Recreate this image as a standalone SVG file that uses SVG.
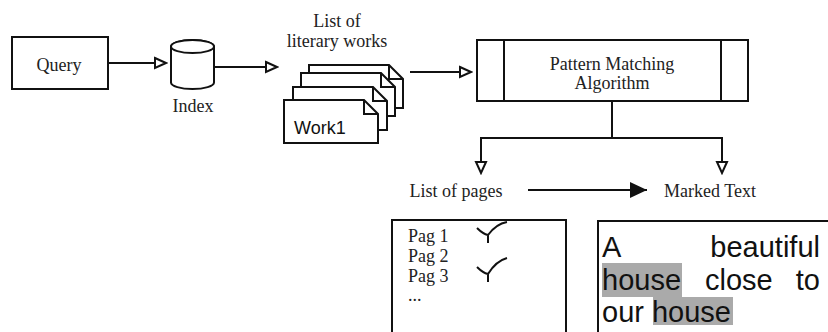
<svg xmlns="http://www.w3.org/2000/svg" width="828" height="332" viewBox="0 0 828 332">
<defs>
<style>
.ln{fill:none;stroke:#111;stroke-width:2}
.box{fill:#fff;stroke:#111;stroke-width:2}
.t{font-family:"Liberation Serif","Times New Roman",serif;font-size:18px;fill:#222}
.s{font-family:"Liberation Sans",Arial,sans-serif;fill:#111}
.hl{fill:#aaa}
</style>
<marker id="open" markerWidth="14" markerHeight="14" refX="12" refY="6" orient="auto" markerUnits="userSpaceOnUse" viewBox="0 0 14 12">
<path d="M1,1 L12,6 L1,11 Z" fill="#fff" stroke="#111" stroke-width="2"/>
</marker>
<marker id="solid" markerWidth="18" markerHeight="18" refX="17" refY="8" orient="auto" markerUnits="userSpaceOnUse" viewBox="0 0 18 16">
<path d="M0,0 L17,8 L0,16 Z" fill="#111"/>
</marker>
</defs>
<rect width="828" height="332" fill="#fff"/>

<g id="connectors">
<path class="ln" d="M108,63 H166" marker-end="url(#open)"/>
<path class="ln" d="M214,67 H277" marker-end="url(#open)"/>
<path class="ln" d="M410,72 H471" marker-end="url(#open)"/>
<path class="ln" d="M612,101 V138"/>
<path class="ln" d="M481,138 H722"/>
<path class="ln" d="M481,137 V173" marker-end="url(#open)"/>
<path class="ln" d="M722,137 V173" marker-end="url(#open)"/>
<path class="ln" d="M528,190 H647" marker-end="url(#solid)"/>
</g>

<g id="query">
<rect class="box" x="12" y="37" width="96" height="52"/>
<text class="t" x="59" y="71" text-anchor="middle">Query</text>
</g>

<g id="index">
<path class="box" d="M171,46.5 V82.5 A21.5,6.5 0 0 0 214,82.5 V46.5 A21.5,6.5 0 0 0 171,46.5 Z"/>
<ellipse class="box" cx="192.5" cy="46.5" rx="21.5" ry="6.5"/>
<text class="t" x="193" y="112" text-anchor="middle">Index</text>
</g>

<g id="works">
<text class="t" x="337" y="27" text-anchor="middle">List of</text>
<text class="t" x="337" y="47" text-anchor="middle">literary works</text>
<path class="box" d="M309,65 H389 L403,79 V108 H309 Z M389,65 V79 H403"/>
<path class="box" d="M301,73 H381 L395,87 V116 H301 Z M381,73 V87 H395"/>
<path class="box" d="M293,87 H373 L387,101 V130 H293 Z M373,87 V101 H387"/>
<path class="box" d="M284,100 H364 L378,114 V143 H284 Z M364,100 V114 H378"/>
<text class="s" x="294" y="134" font-size="18">Work1</text>
</g>

<g id="algorithm">
<rect class="box" x="477" y="40" width="271" height="61"/>
<path class="ln" d="M504,40 V101 M721,40 V101"/>
<text class="t" x="612" y="70" text-anchor="middle">Pattern Matching</text>
<text class="t" x="612" y="89" text-anchor="middle">Algorithm</text>
</g>

<g id="list-of-pages">
<text class="t" x="456" y="197" text-anchor="middle">List of pages</text>
</g>

<g id="marked-text">
<text class="t" x="710" y="197" text-anchor="middle">Marked Text</text>
</g>

<g id="pages-box">
<path class="ln" d="M392,334 V220 H566 V334"/>
<text class="t" x="408" y="242">Pag 1</text>
<text class="t" x="408" y="262">Pag 2</text>
<text class="t" x="408" y="282">Pag 3</text>
<text class="t" x="408" y="301">...</text>
<path class="ln" d="M477,228 Q483,234 488,235 M488,235 V243 M488,235 Q496,224 507,222"/>
<path class="ln" d="M477,267 Q483,273 488,274 M488,274 V282 M488,274 Q496,261 507,258"/>
</g>

<g id="text-box">
<path class="ln" d="M598,334 V221 H830"/>
<rect class="hl" x="602" y="263" width="80" height="34"/>
<rect class="hl" x="653" y="297" width="80" height="28"/>
<text class="s" font-size="29" x="602" y="257">A</text>
<text class="s" font-size="29" x="820" y="257" text-anchor="end">beautiful</text>
<text class="s" font-size="29" x="602" y="290">house</text>
<text class="s" font-size="29" x="705" y="290">close</text>
<text class="s" font-size="29" x="820" y="290" text-anchor="end">to</text>
<text class="s" font-size="29" x="602" y="322">our house</text>
</g>
</svg>
